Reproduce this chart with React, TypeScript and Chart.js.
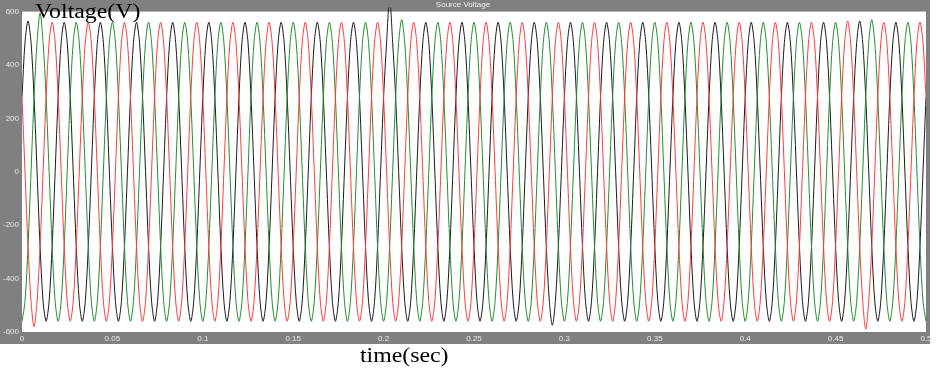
import React, { useEffect, useRef } from 'react';
import { Chart, registerables } from 'chart.js';

Chart.register(...registerables);

// Sampling step of the recorded waveforms: 1/600 s (30 degrees of a 50 Hz cycle)
const SAMPLE_STEP = 1 / 600;

// Phase A (red) voltage samples, one 50 Hz cycle per line
const RED_VALUES = [
  280, 0, -280, -485, -580, -485, -280, 0, 280, 485, 560, 485,
  280, 0, -280, -485, -560, -485, -280, 0, 280, 485, 560, 485,
  280, 0, -280, -485, -560, -485, -280, 0, 280, 485, 560, 485,
  280, 0, -280, -485, -560, -485, -280, 0, 280, 485, 560, 485,
  280, 0, -280, -485, -560, -485, -280, 0, 280, 485, 560, 485,
  280, 0, -280, -485, -560, -485, -280, 0, 280, 485, 560, 485,
  280, 0, -280, -485, -560, -485, -280, 0, 280, 485, 560, 485,
  280, 0, -280, -485, -560, -485, -280, 0, 280, 485, 560, 485,
  280, 0, -280, -485, -560, -485, -280, 0, 280, 485, 560, 485,
  280, 0, -280, -485, -560, -485, -280, 0, 280, 485, 560, 485,
  280, 0, -280, -485, -560, -485, -280, 0, 280, 485, 560, 485,
  280, 0, -280, -485, -560, -485, -280, 0, 280, 485, 560, 485,
  280, 0, -280, -485, -560, -485, -280, 0, 280, 485, 560, 485,
  280, 0, -280, -485, -560, -485, -280, 0, 280, 485, 560, 485,
  280, 0, -280, -485, -560, -485, -280, 0, 280, 485, 560, 485,
  280, 0, -280, -485, -560, -485, -280, 0, 280, 485, 560, 485,
  280, 0, -280, -485, -560, -485, -280, 0, 280, 485, 560, 485,
  280, 0, -280, -485, -560, -485, -280, 0, 280, 485, 560, 485,
  280, 0, -280, -485, -560, -485, -280, 0, 280, 485, 560, 485,
  280, 0, -280, -485, -560, -485, -280, 0, 280, 485, 560, 485,
  280, 0, -280, -485, -560, -485, -280, 0, 280, 485, 560, 485,
  280, 0, -280, -485, -560, -485, -280, 0, 280, 485, 560, 485,
  280, 0, -280, -485, -560, -485, -280, 0, 280, 485, 565, 485,
  280, 0, -280, -485, -590, -485, -280, 0, 280, 485, 560, 485,
  280, 0, -280, -485, -560, -485, -280, 0, 280, 485, 560, 485,
  280,
];

// Phase B (black) voltage samples
const BLACK_VALUES = [
  280, 485, 565, 485, 280, 0, -280, -485, -560, -485, -280, 0,
  280, 485, 560, 485, 280, 0, -280, -485, -560, -485, -280, 0,
  280, 485, 560, 485, 280, 0, -280, -485, -560, -485, -280, 0,
  280, 485, 560, 485, 280, 0, -280, -485, -560, -485, -280, 0,
  280, 485, 560, 485, 280, 0, -280, -485, -560, -485, -280, 0,
  280, 485, 560, 485, 280, 0, -280, -485, -560, -485, -280, 0,
  280, 485, 560, 485, 280, 0, -280, -485, -560, -485, -280, 0,
  280, 485, 560, 485, 280, 0, -280, -485, -560, -485, -280, 0,
  280, 485, 560, 485, 280, 0, -280, -485, -560, -485, -280, 0,
  280, 485, 560, 485, 280, 0, -280, -485, -560, -485, -280, 0,
  280, 485, 650, 485, 280, 0, -280, -485, -560, -485, -280, 0,
  280, 485, 560, 485, 280, 0, -280, -485, -560, -485, -280, 0,
  280, 485, 560, 485, 280, 0, -280, -485, -560, -485, -280, 0,
  280, 485, 560, 485, 280, 0, -280, -485, -560, -485, -280, 0,
  280, 485, 560, 485, 280, 0, -280, -485, -575, -485, -280, 0,
  280, 485, 560, 485, 280, 0, -280, -485, -560, -485, -280, 0,
  280, 485, 560, 485, 280, 0, -280, -485, -560, -485, -280, 0,
  280, 485, 560, 485, 280, 0, -280, -485, -560, -485, -280, 0,
  280, 485, 560, 485, 280, 0, -280, -485, -560, -485, -280, 0,
  280, 485, 560, 485, 280, 0, -280, -485, -560, -485, -280, 0,
  280, 485, 560, 485, 280, 0, -280, -485, -560, -485, -280, 0,
  280, 485, 560, 485, 280, 0, -280, -485, -560, -485, -280, 0,
  280, 485, 560, 485, 280, 0, -280, -485, -560, -485, -280, 0,
  280, 485, 565, 485, 280, 0, -280, -485, -560, -485, -280, 0,
  280, 485, 560, 485, 280, 0, -280, -485, -560, -485, -280, 0,
  280,
];

// Phase C (green) voltage samples
const GREEN_VALUES = [
  -560, -485, -280, 0, 280, 485, 595, 485, 280, 0, -280, -485,
  -560, -485, -280, 0, 280, 485, 560, 485, 280, 0, -280, -485,
  -560, -485, -280, 0, 280, 485, 560, 485, 280, 0, -280, -485,
  -560, -485, -280, 0, 280, 485, 560, 485, 280, 0, -280, -485,
  -560, -485, -280, 0, 280, 485, 560, 485, 280, 0, -280, -485,
  -560, -485, -280, 0, 280, 485, 560, 485, 280, 0, -280, -485,
  -560, -485, -280, 0, 280, 485, 560, 485, 280, 0, -280, -485,
  -560, -485, -280, 0, 280, 485, 560, 485, 280, 0, -280, -485,
  -560, -485, -280, 0, 280, 485, 560, 485, 280, 0, -280, -485,
  -560, -485, -280, 0, 280, 485, 560, 485, 280, 0, -280, -485,
  -560, -485, -280, 0, 280, 485, 570, 485, 280, 0, -280, -485,
  -560, -485, -280, 0, 280, 485, 560, 485, 280, 0, -280, -485,
  -560, -485, -280, 0, 280, 485, 560, 485, 280, 0, -280, -485,
  -560, -485, -280, 0, 280, 485, 560, 485, 280, 0, -280, -485,
  -560, -485, -280, 0, 280, 485, 560, 485, 280, 0, -280, -485,
  -560, -485, -280, 0, 280, 485, 560, 485, 280, 0, -280, -485,
  -560, -485, -280, 0, 280, 485, 560, 485, 280, 0, -280, -485,
  -560, -485, -280, 0, 280, 485, 560, 485, 280, 0, -280, -485,
  -560, -485, -280, 0, 280, 485, 560, 485, 280, 0, -280, -485,
  -560, -485, -280, 0, 280, 485, 560, 485, 280, 0, -280, -485,
  -560, -485, -280, 0, 280, 485, 560, 485, 280, 0, -280, -485,
  -560, -485, -280, 0, 280, 485, 560, 485, 280, 0, -280, -485,
  -560, -485, -280, 0, 280, 485, 560, 485, 280, 0, -280, -485,
  -560, -485, -280, 0, 280, 485, 570, 485, 280, 0, -280, -485,
  -560, -485, -280, 0, 280, 485, 560, 485, 280, 0, -280, -485,
  -560,
];

const X_MIN = 0;
const X_MAX = 0.5;
const X_STEP = 0.05;
const Y_MIN = -600;
const Y_MAX = 600;
const Y_STEP = 200;

const TITLE = 'Source Voltage';
const Y_LABEL = 'Voltage(V)';
const X_LABEL = 'time(sec)';

const FRAME_GRAY = '#808080';
const TICK_COLOR = '#e8e8e8';

export default function App() {
  const canvasRef = useRef<HTMLCanvasElement | null>(null);

  useEffect(() => {
    const canvas = canvasRef.current;
    if (!canvas) return;

    const toPoints = (vals: number[]) => vals.map((v, i) => ({ x: i * SAMPLE_STEP, y: v }));

    const framePlugin = {
      id: 'frame',
      beforeDraw(chart: any) {
        const { ctx, chartArea: a } = chart;
        ctx.save();
        ctx.fillStyle = FRAME_GRAY;
        ctx.fillRect(0, 0, a.right + 4, a.bottom + 12);
        ctx.fillStyle = '#ffffff';
        ctx.fillRect(a.left, a.top, a.right - a.left, a.bottom - a.top);
        ctx.restore();
      },
    };

    const tickFont = { family: 'Arial, "Liberation Sans", sans-serif', size: 8 };

    const chart = new Chart(canvas, {
      type: 'line',
      data: {
        datasets: [
          { label: 'Va', data: toPoints(RED_VALUES), borderColor: '#ff3b3b', borderWidth: 1, pointRadius: 0, tension: 0.3 },
          { label: 'Vc', data: toPoints(GREEN_VALUES), borderColor: '#1f8f2a', borderWidth: 1, pointRadius: 0, tension: 0.3 },
          { label: 'Vb', data: toPoints(BLACK_VALUES), borderColor: '#1a1a1a', borderWidth: 1, pointRadius: 0, tension: 0.3, clip: { left: 0, top: 4, right: 0, bottom: 0 } as any },
        ],
      },
      options: {
        animation: false,
        responsive: false,
        maintainAspectRatio: false,
        events: [],
        layout: { padding: { left: 0, right: 16, top: 0, bottom: 37 } },
        plugins: {
          legend: { display: false },
          tooltip: { enabled: false },
          title: {
            display: true,
            text: TITLE,
            color: '#f0f0f0',
            font: { family: 'Arial, "Liberation Sans", sans-serif', size: 8, weight: 'normal' },
            padding: { top: 0, bottom: 2 },
          },
        },
        scales: {
          x: {
            type: 'linear',
            min: X_MIN,
            max: X_MAX,
            grid: { display: false, drawTicks: false },
            border: { display: false },
            ticks: {
              stepSize: X_STEP,
              color: TICK_COLOR,
              font: tickFont,
              padding: 2,
              maxRotation: 0,
              autoSkip: false,
              callback: (v: any) => String(Number(Number(v).toFixed(2))),
            },
            afterFit: (scale: any) => { scale.height = 12; },
          },
          y: {
            min: Y_MIN,
            max: Y_MAX,
            grid: { display: false, drawTicks: false },
            border: { display: false },
            ticks: {
              stepSize: Y_STEP,
              color: TICK_COLOR,
              font: tickFont,
              padding: 3,
              callback: (v: any) => String(v),
            },
            afterFit: (scale: any) => { scale.width = 22; },
          },
        },
      },
      plugins: [framePlugin],
    });

    return () => chart.destroy();
  }, []);

  const labelStyle: React.CSSProperties = {
    position: 'absolute',
    fontFamily: '"Liberation Serif", "Times New Roman", serif',
    fontSize: 20,
    lineHeight: 1,
    color: '#000',
    transform: 'scaleX(1.19)',
    transformOrigin: 'left top',
    whiteSpace: 'nowrap',
  };

  return (
    <div style={{ position: 'fixed', left: 0, top: 0, width: 942, height: 381, background: '#ffffff', overflow: 'hidden' }}>
      <canvas ref={canvasRef} width={942} height={381} style={{ position: 'absolute', left: 0, top: 0, width: 942, height: 381 }} />
      <div style={{ ...labelStyle, left: 35, top: 1 }}>{Y_LABEL}</div>
      <div style={{ ...labelStyle, left: 360, top: 345 }}>{X_LABEL}</div>
    </div>
  );
}
